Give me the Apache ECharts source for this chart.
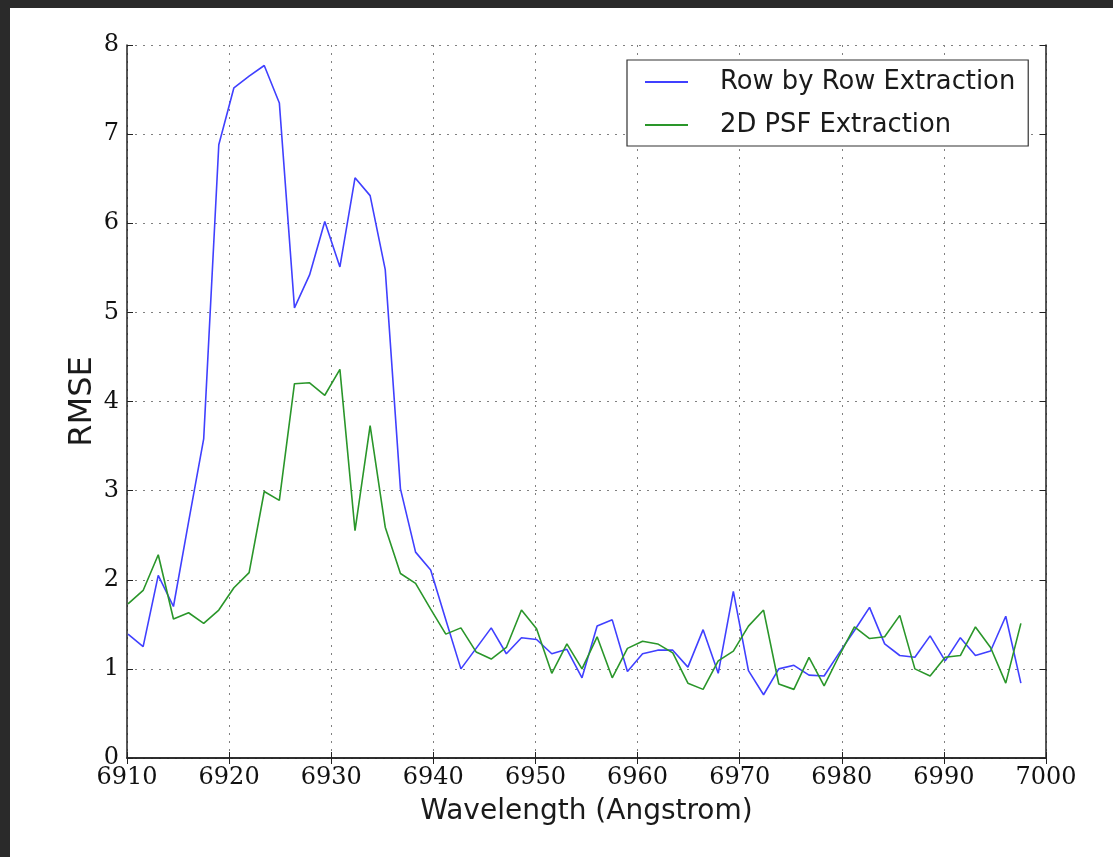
<!DOCTYPE html>
<html>
<head>
<meta charset="utf-8">
<script src="https://cdn.jsdelivr.net/npm/echarts@6/dist/echarts.min.js"></script>
<style>
  html, body { margin: 0; padding: 0; background: #2a2a2a; width: 1113px; height: 857px; overflow: hidden; }
  #chart { position: absolute; left: 10px; top: 8px; width: 1103px; height: 849px; background: #ffffff; }
</style>
</head>
<body>
<div id="chart"></div>
<script>
// Wavelength samples (Angstrom)
const wavelength = [
  6910.10, 6911.58, 6913.06, 6914.55, 6916.03, 6917.51, 6918.99, 6920.47, 6921.96, 6923.44,
  6924.92, 6926.40, 6927.88, 6929.37, 6930.85, 6932.33, 6933.81, 6935.29, 6936.78, 6938.26,
  6939.74, 6941.22, 6942.70, 6944.19, 6945.67, 6947.15, 6948.63, 6950.11, 6951.60, 6953.08,
  6954.56, 6956.04, 6957.52, 6959.01, 6960.49, 6961.97, 6963.45, 6964.93, 6966.42, 6967.90,
  6969.38, 6970.86, 6972.34, 6973.83, 6975.31, 6976.79, 6978.27, 6979.75, 6981.24, 6982.72,
  6984.20, 6985.68, 6987.16, 6988.65, 6990.13, 6991.61, 6993.09, 6994.57, 6996.06, 6997.54
];

// RMSE of the row-by-row extraction
const rowByRow = [
  1.39, 1.25, 2.05, 1.70, 2.65, 3.58, 6.88, 7.52, 7.65, 7.77,
  7.35, 5.05, 5.42, 6.02, 5.51, 6.51, 6.31, 5.48, 3.02, 2.31,
  2.11, 1.55, 1.00, 1.23, 1.46, 1.17, 1.35, 1.33, 1.17, 1.22,
  0.90, 1.48, 1.55, 0.97, 1.17, 1.21, 1.21, 1.02, 1.44, 0.95,
  1.87, 0.98, 0.71, 1.00, 1.04, 0.93, 0.92, 1.18, 1.43, 1.69,
  1.28, 1.15, 1.13, 1.37, 1.09, 1.35, 1.15, 1.20, 1.59, 0.84
];

// RMSE of the 2D PSF extraction
const psf2d = [
  1.73, 1.88, 2.28, 1.56, 1.63, 1.51, 1.66, 1.91, 2.08, 2.99,
  2.89, 4.20, 4.21, 4.07, 4.36, 2.55, 3.73, 2.59, 2.07, 1.96,
  1.67, 1.39, 1.46, 1.19, 1.11, 1.24, 1.66, 1.45, 0.95, 1.28,
  1.00, 1.36, 0.90, 1.23, 1.31, 1.28, 1.18, 0.84, 0.77, 1.09,
  1.20, 1.48, 1.66, 0.83, 0.77, 1.13, 0.81, 1.15, 1.47, 1.34,
  1.36, 1.60, 1.00, 0.92, 1.13, 1.15, 1.47, 1.24, 0.84, 1.51
];

const seriesNames = ['Row by Row Extraction', '2D PSF Extraction'];
const xTicks = { min: 6910, max: 7000, step: 10 };
const yTicks = { min: 0, max: 8, step: 1 };

const pairs = (ys) => wavelength.map((x, i) => [x, ys[i]]);

const tickFont = { fontFamily: 'DejaVu Serif', fontSize: 24, color: '#111' };
const frame = { show: true, lineStyle: { color: '#222', width: 1.5 } };
const ticks = { show: true, inside: true, length: 6, lineStyle: { color: '#222', width: 1 } };
const grid = { show: true, lineStyle: { color: '#808080', width: 1, type: [2, 6] } };

const chart = echarts.init(document.getElementById('chart'), null, { renderer: 'canvas' });
chart.setOption({
  animation: false,
  backgroundColor: '#ffffff',
  grid: { left: 117, top: 37, width: 919, height: 713, containLabel: false },
  legend: {
    left: 617, top: 52, orient: 'vertical',
    backgroundColor: '#ffffff', borderColor: '#333', borderWidth: 1.2, borderRadius: 0,
    padding: [8, 13, 7, 18],
    itemWidth: 43, itemHeight: 2, itemGap: 15, icon: 'rect',
    textStyle: { fontFamily: 'DejaVu Sans', fontSize: 25.8, color: '#1a1a1a', lineHeight: 28, padding: [0, 0, 0, 27] },
    data: seriesNames
  },
  xAxis: [
    {
      type: 'value', min: xTicks.min, max: xTicks.max, interval: xTicks.step,
      name: 'Wavelength (Angstrom)', nameLocation: 'middle', nameGap: 40,
      nameTextStyle: { fontFamily: 'DejaVu Sans', fontSize: 28, color: '#1a1a1a' },
      axisLine: frame, axisTick: ticks, splitLine: grid,
      axisLabel: Object.assign({ margin: 8, showMinLabel: true, showMaxLabel: true,
        formatter: (v) => String(v) }, tickFont)
    },
    {
      type: 'value', position: 'top', min: xTicks.min, max: xTicks.max, interval: xTicks.step,
      axisLine: frame, axisTick: ticks, splitLine: { show: false }, axisLabel: { show: false }
    }
  ],
  yAxis: [
    {
      type: 'value', min: yTicks.min, max: yTicks.max, interval: yTicks.step,
      name: 'RMSE', nameLocation: 'middle', nameGap: 28, nameRotate: 90, nameMoveOverlap: false,
      nameTextStyle: { fontFamily: 'DejaVu Sans', fontSize: 32, color: '#1a1a1a' },
      axisLine: frame, axisTick: ticks, splitLine: grid,
      axisLabel: Object.assign({ margin: 8, showMinLabel: true, showMaxLabel: true }, tickFont)
    },
    {
      type: 'value', position: 'right', min: yTicks.min, max: yTicks.max, interval: yTicks.step,
      axisLine: frame, axisTick: ticks, splitLine: { show: false }, axisLabel: { show: false }
    }
  ],
  series: [
    {
      name: seriesNames[0], type: 'line', data: pairs(rowByRow),
      symbol: 'none', lineStyle: { color: '#4040ff', width: 1.6 }, itemStyle: { color: '#4040ff' }
    },
    {
      name: seriesNames[1], type: 'line', data: pairs(psf2d),
      symbol: 'none', lineStyle: { color: '#2a962a', width: 1.6 }, itemStyle: { color: '#2a962a' }
    }
  ]
});
</script>
</body>
</html>
